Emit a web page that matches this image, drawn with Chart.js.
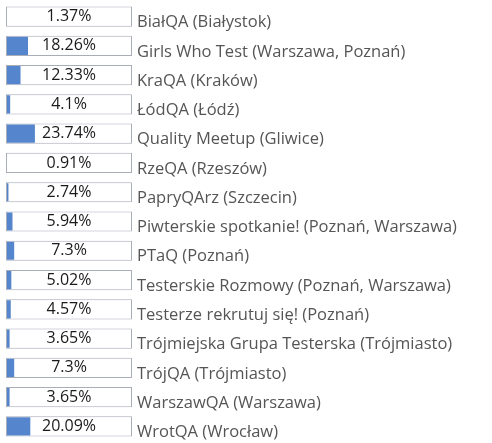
<!DOCTYPE HTML>
<html>
<head>
  <meta charset="utf-8" />
  <title>QA meetups</title>
  <script src="https://cdn.jsdelivr.net/npm/chart.js@4/dist/chart.umd.min.js"></script>
  <style type="text/css">
    html, body { margin: 0; padding: 0; background: #fff; }
    #wrap { width: 492px; height: 443px; }
  </style>
</head>
<body>
<div id="wrap"><canvas id="bars"></canvas></div>
<script>
  var groups = [
    "BiałQA (Białystok)",
    "Girls Who Test (Warszawa, Poznań)",
    "KraQA (Kraków)",
    "ŁódQA (Łódź)",
    "Quality Meetup (Gliwice)",
    "RzeQA (Rzeszów)",
    "PapryQArz (Szczecin)",
    "Piwterskie spotkanie! (Poznań, Warszawa)",
    "PTaQ (Poznań)",
    "Testerskie Rozmowy (Poznań, Warszawa)",
    "Testerze rekrutuj się! (Poznań)",
    "Trójmiejska Grupa Testerska (Trójmiasto)",
    "TrójQA (Trójmiasto)",
    "WarszawQA (Warszawa)",
    "WrotQA (Wrocław)"
  ];
  var shares = [1.37, 18.26, 12.33, 4.1, 23.74, 0.91, 2.74, 5.94, 7.3, 5.02, 4.57, 3.65, 7.3, 3.65, 20.09];
  var full = groups.map(function () { return 100; });

  // writes the percentage in the middle of each white box
  var pctText = {
    id: 'pctText',
    afterDatasetsDraw: function (chart) {
      var ctx = chart.ctx;
      var boxes = chart.getDatasetMeta(0).data;
      ctx.save();
      ctx.font = '16px "Open Sans"';
      ctx.fillStyle = '#1a1a1a';
      ctx.textAlign = 'center';
      ctx.textBaseline = 'middle';
      boxes.forEach(function (bar, i) {
        var cx = (bar.base + bar.x) / 2;
        ctx.fillText(shares[i] + '%', cx, bar.y);
      });
      ctx.restore();
    }
  };

  new Chart(document.getElementById('bars'), {
    type: 'bar',
    data: {
      labels: groups,
      datasets: [{
        data: full,
        backgroundColor: '#ffffff',
        borderColor: '#a9adb8',
        borderWidth: 1,
        borderSkipped: false,
        barPercentage: 0.69,
        categoryPercentage: 1,
        grouped: false,
        order: 2
      }, {
        data: shares,
        backgroundColor: '#5585cc',
        borderColor: 'rgba(0,0,0,0)',
        borderWidth: 1,
        borderSkipped: false,
        barPercentage: 0.69,
        categoryPercentage: 1,
        grouped: false,
        order: 1
      }]
    },
    options: {
      indexAxis: 'y',
      responsive: true,
      maintainAspectRatio: false,
      animation: false,
      events: [],
      layout: { padding: { left: 6, top: 2, bottom: 2, right: 0 } },
      plugins: { legend: { display: false }, tooltip: { enabled: false } },
      scales: {
        x: { display: false, min: 0, max: 100 },
        y: {
          position: 'right',
          grid: { display: false, drawTicks: false },
          border: { display: false },
          afterFit: function (axis) {
            axis.width = 360;
            axis.paddingTop = 0;
            axis.paddingBottom = 0;
          },
          ticks: {
            color: '#555555',
            padding: 5,
            labelOffset: 6,
            font: { family: '"Open Sans"', size: 16.5 }
          }
        }
      }
    },
    plugins: [pctText]
  });
</script>
</body>
</html>
